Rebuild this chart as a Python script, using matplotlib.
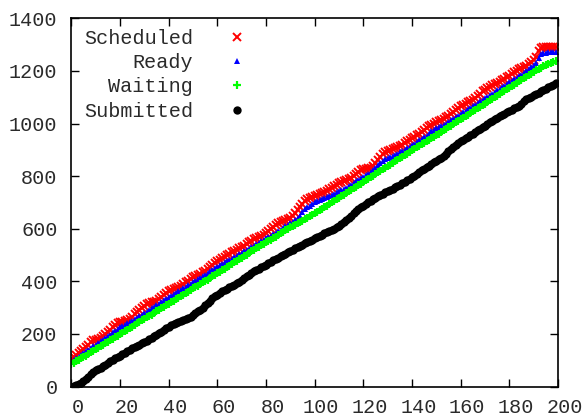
import matplotlib
matplotlib.use("Agg")
import matplotlib.pyplot as plt
import matplotlib.transforms as mtransforms

x_vals = list(range(200))

submitted = [
    0, 3, 6, 10, 15, 22, 30, 38, 46, 55,
    62, 67, 72, 78, 84, 90, 96, 102, 108, 113,
    118, 123, 128, 134, 139, 145, 150, 155, 160, 165,
    170, 175, 180, 186, 192, 197, 203, 209, 215, 221,
    228, 233, 237, 241, 245, 249, 253, 257, 261, 266,
    272, 279, 286, 293, 300, 309, 318, 327, 336, 344,
    350, 356, 362, 367, 372, 377, 382, 387, 392, 398,
    405, 412, 419, 426, 432, 438, 443, 448, 453, 458,
    463, 469, 475, 480, 485, 490, 495, 500, 505, 510,
    515, 520, 525, 530, 535, 540, 545, 549, 553, 558,
    563, 568, 573, 578, 583, 587, 591, 595, 600, 606,
    612, 619, 626, 634, 642, 650, 658, 666, 674, 681,
    688, 694, 700, 706, 712, 718, 723, 728, 733, 738,
    743, 748, 753, 758, 763, 768, 773, 778, 784, 790,
    796, 802, 808, 815, 822, 828, 834, 840, 846, 852,
    858, 864, 870, 877, 885, 894, 903, 911, 918, 925,
    932, 938, 944, 950, 956, 962, 968, 974, 980, 986,
    992, 998, 1004, 1010, 1016, 1022, 1028, 1033, 1038, 1043,
    1048, 1053, 1058, 1063, 1068, 1075, 1085, 1092, 1097, 1102,
    1107, 1112, 1117, 1122, 1127, 1132, 1137, 1142, 1148, 1155,
]

waiting = [
    85, 90, 96, 101, 107, 112, 118, 124, 130, 136,
    142, 147, 153, 159, 165, 170, 176, 182, 188, 194,
    200, 205, 211, 217, 222, 228, 234, 240, 246, 252,
    258, 263, 268, 274, 280, 286, 291, 297, 303, 309,
    315, 320, 326, 332, 338, 343, 349, 355, 361, 367,
    373, 378, 384, 390, 396, 401, 407, 413, 419, 425,
    431, 436, 442, 448, 454, 460, 466, 472, 478, 484,
    490, 496, 502, 508, 514, 520, 526, 532, 538, 543,
    548, 553, 558, 564, 570, 576, 582, 588, 594, 600,
    605, 610, 615, 620, 625, 630, 636, 642, 648, 654,
    660, 665, 670, 676, 682, 688, 694, 700, 706, 712,
    718, 724, 730, 736, 742, 748, 754, 760, 766, 772,
    778, 784, 790, 796, 802, 808, 814, 820, 826, 832,
    838, 844, 850, 856, 862, 868, 874, 880, 886, 892,
    898, 904, 910, 916, 922, 927, 932, 938, 944, 950,
    956, 962, 968, 974, 980, 986, 992, 998, 1004, 1010,
    1016, 1022, 1028, 1034, 1040, 1046, 1052, 1058, 1064, 1070,
    1076, 1082, 1088, 1094, 1100, 1106, 1112, 1118, 1124, 1130,
    1136, 1142, 1148, 1154, 1160, 1166, 1172, 1178, 1184, 1190,
    1196, 1202, 1207, 1212, 1217, 1222, 1226, 1230, 1234, 1238,
]

ready = [
    95, 100, 108, 113, 121, 127, 134, 141, 148, 154,
    160, 165, 173, 179, 185, 192, 198, 206, 213, 220,
    226, 230, 235, 241, 244, 250, 256, 262, 267, 273,
    279, 285, 290, 297, 303, 310, 315, 321, 328, 334,
    340, 345, 351, 357, 362, 367, 373, 379, 385, 391,
    397, 402, 408, 414, 421, 426, 432, 438, 444, 450,
    456, 461, 466, 472, 476, 482, 486, 492, 498, 504,
    508, 514, 518, 524, 529, 535, 541, 547, 553, 558,
    563, 568, 573, 579, 585, 591, 597, 603, 609, 615,
    621, 627, 633, 640, 650, 662, 674, 682, 688, 694,
    700, 705, 710, 714, 718, 722, 726, 730, 734, 738,
    742, 746, 750, 756, 762, 768, 774, 780, 786, 792,
    798, 804, 810, 816, 824, 832, 842, 850, 858, 864,
    870, 874, 878, 882, 886, 890, 894, 900, 906, 912,
    918, 924, 930, 936, 942, 947, 954, 962, 970, 976,
    982, 986, 990, 994, 1000, 1006, 1012, 1018, 1024, 1030,
    1036, 1042, 1048, 1054, 1060, 1066, 1072, 1078, 1084, 1090,
    1096, 1102, 1108, 1114, 1120, 1126, 1132, 1138, 1144, 1150,
    1156, 1162, 1168, 1174, 1180, 1186, 1192, 1198, 1206, 1214,
    1222, 1230, 1248, 1264, 1268, 1269, 1270, 1270, 1270, 1270,
]

scheduled = [
    105, 112, 120, 128, 135, 142, 150, 160, 170, 176,
    178, 180, 185, 192, 200, 208, 216, 225, 235, 242,
    245, 246, 248, 252, 258, 266, 275, 283, 290, 298,
    306, 314, 318, 320, 322, 326, 332, 340, 348, 356,
    362, 368, 372, 376, 380, 384, 390, 396, 403, 410,
    416, 420, 424, 428, 434, 440, 448, 456, 464, 470,
    476, 482, 488, 494, 500, 505, 510, 515, 520, 525,
    530, 536, 542, 548, 554, 560, 565, 570, 574, 578,
    584, 590, 598, 606, 614, 620, 624, 628, 632, 636,
    642, 650, 660, 672, 684, 696, 706, 712, 716, 720,
    724, 728, 732, 736, 740, 744, 750, 756, 762, 768,
    774, 778, 782, 786, 790, 794, 800, 808, 816, 822,
    826, 828, 830, 832, 840, 850, 862, 874, 884, 890,
    894, 898, 902, 906, 910, 914, 920, 926, 932, 938,
    944, 950, 956, 962, 968, 974, 982, 990, 996, 1000,
    1004, 1008, 1012, 1018, 1024, 1030, 1036, 1044, 1052, 1060,
    1066, 1072, 1076, 1080, 1084, 1090, 1098, 1106, 1114, 1122,
    1128, 1134, 1140, 1146, 1150, 1154, 1158, 1164, 1170, 1176,
    1182, 1188, 1194, 1200, 1206, 1212, 1216, 1220, 1226, 1232,
    1240, 1252, 1274, 1288, 1290, 1290, 1291, 1291, 1291, 1291,
]

labels = ["Scheduled", "Ready", "Waiting", "Submitted"]
x_ticks = list(range(0, 201, 20))
y_ticks = list(range(0, 1401, 200))

plt.rcParams['font.family'] = ['Liberation Mono', 'DejaVu Sans Mono']
FS = 14.5
TXT = '#2a2a2a'

fig = plt.figure(figsize=(5.85, 4.17), dpi=100)
ax = fig.add_axes([71.3/585, 1 - 386.6/417, (558 - 71.3)/585, (386.6 - 18.3)/417])

ax.plot(x_vals, scheduled, linestyle='none', marker='x', color='#ff0000',
        markersize=5.5, markeredgewidth=1.4, label=labels[0])
ax.plot(x_vals, ready, linestyle='none', marker='^', color='#0000ff',
        markersize=4.5, markeredgewidth=0, label=labels[1])
ax.plot(x_vals, waiting, linestyle='none', marker='+', color='#00ff00',
        markersize=6, markeredgewidth=1.6, label=labels[2])
ax.plot(x_vals, submitted, linestyle='none', marker='o', color='#000000',
        markersize=6, markeredgewidth=0, label=labels[3])

ax.set_xlim(0, 200)
ax.set_ylim(0, 1400)
ax.set_xticks(x_ticks)
ax.set_yticks(y_ticks)
ax.tick_params(direction='in', length=6, width=1, top=True, right=True,
               labelsize=FS, labelcolor=TXT)
ax.tick_params(axis='y', pad=10)
ax.tick_params(axis='x', pad=8)
shift = mtransforms.ScaledTranslation(6.5/100, 0, fig.dpi_scale_trans)
for lab in ax.get_xticklabels():
    lab.set_transform(lab.get_transform() + shift)
for s in ax.spines.values():
    s.set_linewidth(1.2)

leg = ax.legend(loc='upper left', bbox_to_anchor=(0.026, 0.972), frameon=False,
                markerfirst=False, numpoints=1, handlelength=1.0,
                handletextpad=1.7, labelspacing=0.27, borderpad=0,
                borderaxespad=0, fontsize=FS)
for t in leg.get_texts():
    t.set_color(TXT)

fig.savefig('out.png', dpi=100)
